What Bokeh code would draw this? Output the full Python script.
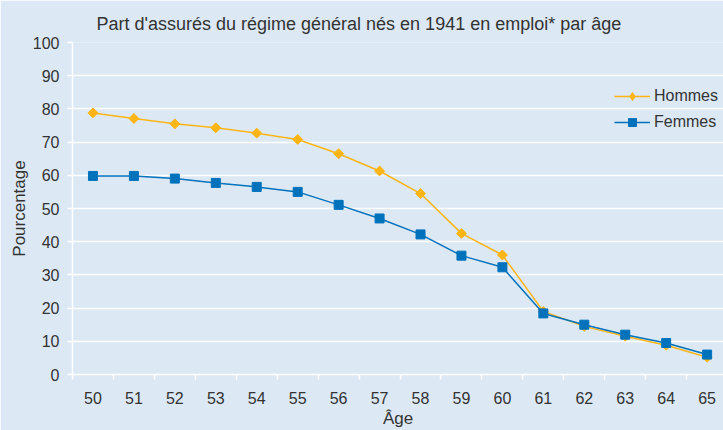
from bokeh.plotting import figure
from bokeh.models import Range1d, FixedTicker, Legend, LegendItem
from bokeh.embed import file_html
from bokeh.resources import INLINE
import math

ages = [50, 51, 52, 53, 54, 55, 56, 57, 58, 59, 60, 61, 62, 63, 64, 65]
hommes = [78.8, 77.1, 75.5, 74.3, 72.7, 70.8, 66.5, 61.3, 54.5, 42.5, 36.0, 19.0, 14.5, 11.5, 8.8, 5.2]
femmes = [59.8, 59.8, 59.0, 57.7, 56.5, 55.0, 51.1, 47.0, 42.2, 35.8, 32.3, 18.4, 15.0, 12.0, 9.5, 6.0]
y_ticks = [0, 10, 20, 30, 40, 50, 60, 70, 80, 90, 100]

TITLE = "Part d'assurés du régime général nés en 1941 en emploi* par âge"
X_LABEL = "Âge"
Y_LABEL = "Pourcentage"

BG = "#dce9f5"
TXT = "#333333"
FONT = "Liberation Sans"
ORANGE = "#fdb515"
BLUE = "#0072bc"

p = figure(width=723, height=430, output_backend="svg", toolbar_location=None,
           x_range=Range1d(49.5, 65.4), y_range=Range1d(0, 100),
           min_border_left=72, min_border_right=0, min_border_top=42, min_border_bottom=55)
p.background_fill_color = BG
p.border_fill_color = BG
p.outline_line_color = None

p.title.text = TITLE
p.title.text_font = FONT
p.title.text_font_size = "18px"
p.title.text_font_style = "normal"
p.title.text_color = TXT
p.title.align = "left"
p.title.offset = 24
p.title.standoff = 17

hl = p.line(ages, hommes, line_color=ORANGE, line_width=1.5)
hs = p.scatter(ages, hommes, marker="square", angle=math.pi / 4, size=7,
               fill_color=ORANGE, line_color=ORANGE)
# hidden renderer used only for the legend key (diamond)
hleg = p.scatter(ages, hommes, marker="diamond", size=12,
                 fill_color=ORANGE, line_color=ORANGE, visible=False)
fl = p.line(ages, femmes, line_color=BLUE, line_width=1.5)
fs = p.scatter(ages, femmes, marker="square", size=9, fill_color=BLUE, line_color=BLUE)

p.xaxis.ticker = FixedTicker(ticks=ages, minor_ticks=[a - 0.5 for a in ages])
p.yaxis.ticker = FixedTicker(ticks=y_ticks)

for ax in (p.xaxis[0], p.yaxis[0]):
    ax.axis_line_color = "white"
    ax.axis_line_width = 1.5
    ax.major_label_text_font = FONT
    ax.major_label_text_font_size = "16px"
    ax.major_label_text_color = TXT
    ax.axis_label_text_font = FONT
    ax.axis_label_text_font_size = "17px"
    ax.axis_label_text_font_style = "normal"
    ax.axis_label_text_color = TXT

p.xaxis.major_tick_line_color = None
p.xaxis.minor_tick_line_color = "white"
p.xaxis.minor_tick_line_width = 1.5
p.xaxis.minor_tick_out = 5
p.xaxis.minor_tick_in = 0
p.xaxis.major_label_standoff = 11
p.xaxis.axis_label = X_LABEL
p.xaxis.axis_label_standoff = 2

p.yaxis.major_tick_line_color = "white"
p.yaxis.major_tick_line_width = 1.5
p.yaxis.major_tick_out = 5
p.yaxis.major_tick_in = 0
p.yaxis.minor_tick_line_color = None
p.yaxis.major_label_standoff = 8
p.yaxis.axis_label = Y_LABEL
p.yaxis.axis_label_standoff = 1

p.xgrid.grid_line_color = None
p.ygrid.grid_line_color = "white"
p.ygrid.grid_line_width = 1.5

legend = Legend(items=[LegendItem(label="Hommes", renderers=[hl, hleg]),
                       LegendItem(label="Femmes", renderers=[fl, fs])],
                location=(542, 242))
legend.padding = 0
legend.margin = 0
legend.spacing = 6
legend.glyph_width = 36
legend.glyph_height = 20
legend.label_height = 20
legend.label_standoff = 4
legend.label_text_font = FONT
legend.label_text_font_size = "16px"
legend.label_text_color = TXT
legend.border_line_color = None
legend.background_fill_alpha = 0
p.add_layout(legend)

open("out.html", "w").write(file_html(p, INLINE))
